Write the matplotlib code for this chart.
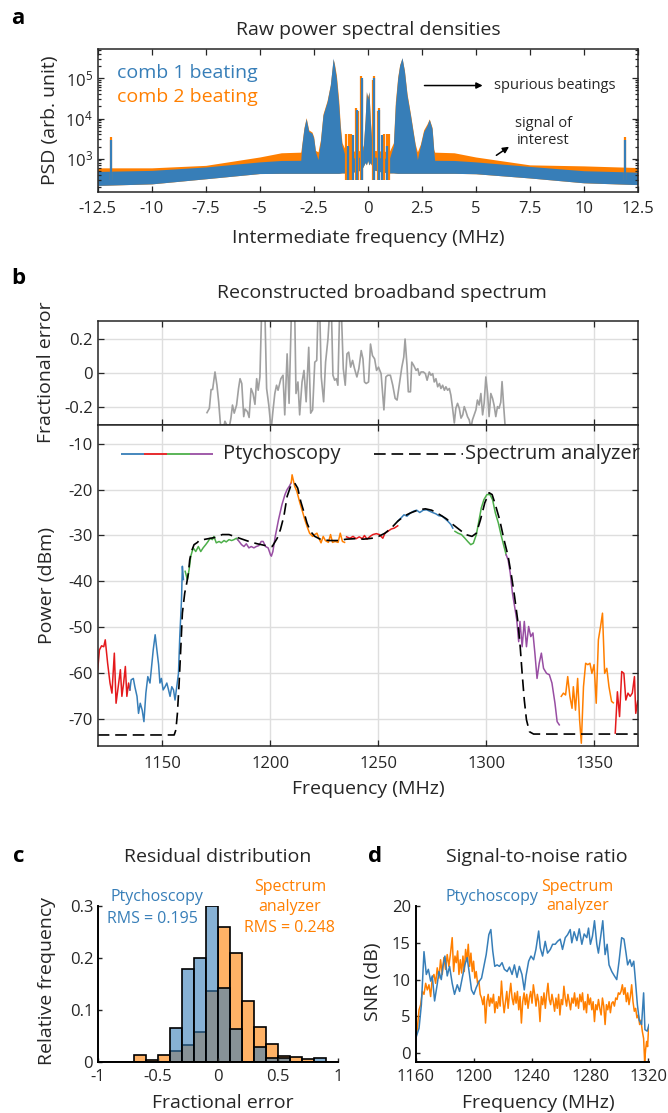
import numpy as np
import matplotlib
matplotlib.use('Agg')
import matplotlib.pyplot as plt
import matplotlib.colors as mcolors
from matplotlib.ticker import FixedLocator, FixedFormatter

plt.rcParams['font.family'] = ['Open Sans', 'DejaVu Sans']
plt.rcParams['mathtext.fontset'] = 'custom'
plt.rcParams['mathtext.rm'] = 'Open Sans'
plt.rcParams['mathtext.default'] = 'regular'
plt.rcParams['axes.unicode_minus'] = False

BLUE = '#377EB8'
RED = '#E41A1C'
GREEN = '#4DAF4A'
PURPLE = '#984EA3'
ORANGE = '#FF7F00'
INK = '#262626'

# ---- panel a: raw PSD envelopes (MHz, arb. unit) ----
psd_freq = [-12.5, -10.0, -7.5, -5.0, -4.0, -3.1,
            -3.05, -2.95, -2.85, -2.73, -2.58, -2.5, -2.42, -2.3,
            -2.19, -2.07, -1.88, -1.73, -1.6, -1.54, -1.45, -1.34, -1.27, -1.19,
            -1.0, -0.6, -0.3, -0.2, -0.12, -0.06, 0.0, 0.06, 0.12, 0.2, 0.3, 0.6, 1.0,
            1.19, 1.28, 1.39, 1.48, 1.59, 1.7, 1.82, 1.98, 2.1, 2.2, 2.3,
            2.44, 2.59, 2.75, 2.85, 2.98, 3.06,
            3.1, 4.0, 5.0, 7.5, 10.0, 12.5]
comb1_top = [480, 510, 620, 830, 900, 910,
             2100, 5600, 10000, 4800, 4300, 3200, 1500, 950,
             2600, 12000, 26000, 68000, 320000, 210000, 100000, 21000, 5600, 2100,
             1000, 1050, 1100, 2000, 9000, 48000, 30000, 48000, 9000, 2000, 1100, 1050, 1000,
             2100, 21000, 100000, 210000, 330000, 150000, 38000, 12000, 4600, 2100, 950,
             2100, 4700, 6800, 9500, 5600, 1500,
             910, 900, 830, 640, 500, 460]
comb2_top = [590, 590, 680, 1100, 1400, 1450,
             2300, 6000, 10500, 5200, 4600, 3500, 1600, 1480,
             2900, 13000, 28000, 70000, 300000, 230000, 120000, 28000, 7000, 2500,
             1500, 1550, 1600, 2200, 9500, 45000, 35000, 45000, 9500, 2200, 1600, 1550, 1500,
             2500, 26000, 110000, 220000, 320000, 160000, 42000, 13000, 5000, 2300, 1480,
             2300, 5200, 7400, 9800, 6000, 1700,
             1450, 1400, 1100, 700, 660, 600]
comb_floor = [215, 235, 315, 425, 430, 430,
              430, 430, 430, 430, 430, 430, 430, 430,
              430, 430, 430, 430, 430, 430, 430, 430, 435, 440,
              440, 470, 520, 650, 800, 700, 900, 700, 800, 650, 520, 470, 440,
              440, 435, 430, 430, 430, 430, 430, 430, 430, 430, 430,
              430, 430, 430, 430, 430, 430,
              430, 430, 420, 330, 250, 225]
spike1_freq = [-11.9, -0.91, -0.68, -0.5, -0.28, 0.28, 0.5, 0.68, 0.91, 11.9]
spike1_top = [2900, 2100, 3800, 16000, 100000, 100000, 16000, 3800, 2100, 2900]
spike2_freq = [-11.9, -0.99, -0.88, -0.77, -0.52, -0.46, -0.3, -0.25,
               0.25, 0.3, 0.46, 0.52, 0.77, 0.88, 0.99, 11.9]
spike2_top = [3500, 4200, 4200, 4200, 18000, 15000, 117000, 90000,
              90000, 117000, 15000, 18000, 4200, 4200, 4200, 3500]
a_ticks = [-12.5, -10, -7.5, -5, -2.5, 0, 2.5, 5, 7.5, 10, 12.5]
a_ticklabels = ['-12.5', '-10', '-7.5', '-5', '-2.5', '0', '2.5', '5', '7.5', '10', '12.5']

# ---- panel b: reconstructed spectrum (MHz, dBm), one list per colour segment ----
red_1 = [(1120.0, -59.2), (1120.8, -54.9), (1121.8, -54.0), (1122.8, -54.2), (1123.5, -52.7),
         (1124.6, -57.8), (1125.7, -62.1), (1126.6, -64.3), (1127.7, -55.6), (1128.5, -66.5),
         (1129.5, -62.9), (1130.5, -59.2), (1131.2, -65.0), (1132.0, -62.1), (1132.8, -58.5),
         (1133.5, -65.0), (1134.3, -62.1), (1134.9, -63.6)]
blue_1 = [(1134.9, -63.6), (1135.5, -61.4), (1136.5, -61.1), (1137.2, -62.9), (1138.2, -65.0),
          (1138.9, -68.7), (1139.7, -66.5), (1140.6, -68.0), (1141.4, -70.5), (1142.3, -64.3),
          (1143.2, -60.7), (1144.2, -62.1), (1145.1, -57.8), (1145.7, -54.9), (1146.6, -51.6),
          (1147.4, -54.9), (1148.2, -58.1), (1148.8, -62.1), (1149.5, -61.1), (1150.3, -63.6),
          (1151.2, -62.9), (1152.0, -62.1), (1152.8, -63.6), (1153.5, -65.0), (1154.3, -62.9),
          (1155.1, -63.6), (1155.8, -65.8), (1156.6, -62.9), (1157.4, -60.0), (1158.0, -52.0),
          (1158.8, -44.0), (1159.2, -36.7), (1159.7, -39.6)]
green_1 = [(1160.5, -37.8), (1161.5, -39.6), (1162.3, -37.5), (1163.1, -34.5), (1164.2, -32.7),
           (1165.4, -33.5), (1166.6, -32.4), (1167.7, -33.5), (1168.8, -32.7), (1170.0, -32.0),
           (1171.1, -31.3), (1172.0, -30.6), (1173.1, -30.9), (1173.8, -30.2), (1174.9, -31.6),
           (1176.2, -31.3), (1177.2, -31.6), (1178.5, -31.1), (1179.5, -31.4), (1180.8, -30.9),
           (1182.0, -31.1), (1183.1, -30.9), (1184.2, -30.6), (1184.8, -30.9)]
purple_1 = [(1184.8, -30.9), (1186.6, -32.0), (1187.7, -32.4), (1188.8, -31.8), (1190.0, -32.7),
            (1191.1, -32.4), (1192.3, -32.7), (1193.4, -32.4), (1194.6, -32.2), (1195.7, -31.3),
            (1196.6, -31.3), (1197.7, -32.4), (1198.9, -32.7), (1200.0, -34.2), (1200.4, -34.5),
            (1201.1, -33.5), (1202.2, -30.2), (1203.7, -26.6), (1205.3, -23.3), (1206.7, -21.1),
            (1207.7, -20.0), (1208.7, -19.3), (1209.6, -18.5)]
orange_1 = [(1209.6, -18.5), (1210.0, -16.8), (1211.2, -19.3), (1212.2, -20.4), (1213.6, -22.9),
            (1215.0, -25.1), (1215.9, -26.6), (1216.9, -28.0), (1218.1, -29.5), (1219.5, -30.2),
            (1220.5, -29.8), (1221.5, -29.5), (1222.4, -30.6), (1223.4, -31.6), (1224.4, -30.2),
            (1225.4, -31.1), (1226.8, -31.5), (1227.8, -29.8), (1228.7, -31.5), (1229.9, -31.3),
            (1231.3, -31.5), (1232.3, -29.5), (1233.3, -31.3), (1234.3, -31.5)]
red_2 = [(1235.2, -30.3), (1236.8, -30.6), (1238.2, -30.2), (1239.6, -30.7), (1241.1, -30.3),
         (1242.5, -30.7), (1243.5, -30.0), (1244.7, -30.8), (1246.1, -30.2), (1247.4, -29.8),
         (1249.0, -29.6), (1250.4, -29.8), (1252.0, -30.6), (1253.0, -29.5), (1254.3, -29.1),
         (1255.9, -28.6), (1257.3, -28.4), (1258.9, -27.9)]
blue_2 = [(1258.9, -26.9), (1260.4, -26.2), (1261.8, -25.5), (1263.2, -25.8), (1264.8, -25.1),
          (1266.3, -24.7), (1267.7, -24.5), (1269.1, -25.0), (1270.7, -24.5), (1272.2, -24.4),
          (1273.6, -24.7), (1275.0, -25.0), (1276.6, -25.3), (1277.9, -25.7), (1279.5, -25.8),
          (1280.9, -26.4), (1282.1, -26.9), (1283.5, -27.6), (1284.4, -28.4)]
green_2 = [(1285.4, -29.1), (1286.8, -29.5), (1288.4, -29.8), (1290.0, -30.6), (1291.3, -31.3),
           (1292.7, -32.0), (1293.9, -31.7), (1295.3, -29.8), (1296.3, -27.3), (1297.6, -24.0),
           (1298.8, -22.2), (1300.2, -21.1), (1301.6, -21.1), (1302.8, -22.2), (1304.1, -25.1),
           (1305.5, -27.3), (1306.7, -29.8), (1308.1, -32.4), (1309.1, -34.2)]
purple_2 = [(1309.1, -34.2), (1310.0, -35.3), (1311.0, -38.2), (1312.0, -42.5), (1313.0, -45.4),
            (1314.0, -48.3), (1314.9, -53.1), (1315.5, -48.7), (1316.5, -54.2), (1317.5, -48.7),
            (1318.5, -54.2), (1319.5, -49.8), (1320.5, -52.0), (1321.5, -51.2), (1322.4, -55.6),
            (1323.4, -61.1), (1324.4, -57.8), (1325.4, -55.6), (1326.4, -58.9), (1327.8, -60.0),
            (1329.1, -60.3), (1330.3, -62.1), (1331.7, -66.5), (1332.7, -70.5), (1333.7, -71.2)]
orange_2 = [(1334.6, -65.0), (1335.6, -64.3), (1336.6, -64.7), (1337.6, -60.7), (1338.6, -65.0),
            (1339.6, -67.6), (1340.2, -62.9), (1341.2, -68.0), (1342.2, -61.1), (1343.1, -70.1),
            (1343.9, -75.2), (1344.9, -62.9), (1345.9, -57.8), (1346.9, -58.1), (1347.9, -57.8),
            (1348.8, -60.0), (1349.8, -58.1), (1350.8, -66.5), (1351.8, -52.7), (1352.8, -49.8),
            (1353.7, -46.9), (1354.7, -60.0), (1355.7, -58.9), (1356.7, -62.9), (1357.9, -66.1),
            (1358.7, -66.4)]
red_3 = [(1359.6, -73.0), (1360.6, -64.0), (1361.6, -69.4), (1362.6, -59.6), (1363.6, -60.0),
         (1364.5, -65.8), (1365.5, -64.3), (1366.5, -65.0), (1367.5, -64.3), (1368.5, -60.7),
         (1369.1, -68.7), (1370.0, -66.0)]
ptycho_segments = [(red_1, RED), (blue_1, BLUE), (green_1, GREEN), (purple_1, PURPLE),
                   (orange_1, ORANGE), (red_2, RED), (blue_2, BLUE), (green_2, GREEN),
                   (purple_2, PURPLE), (orange_2, ORANGE), (red_3, RED)]

analyzer = [(1120.0, -73.4), (1155.4, -73.4), (1156.2, -72.3), (1156.9, -68.7), (1157.7, -62.1),
            (1158.5, -54.2), (1159.2, -46.9), (1160.3, -42.5), (1161.2, -40.4), (1162.0, -38.2),
            (1162.6, -35.3), (1163.4, -33.5), (1164.6, -32.0), (1166.2, -31.5), (1166.9, -31.1),
            (1170.0, -30.8), (1174.6, -30.4), (1177.7, -29.8), (1180.8, -29.8), (1183.8, -30.3),
            (1186.9, -30.8), (1190.0, -31.3), (1193.8, -31.8), (1197.7, -32.2), (1200.8, -32.4),
            (1203.1, -30.6), (1204.6, -28.7), (1206.2, -25.8), (1207.7, -21.5), (1209.6, -18.9),
            (1211.2, -18.6), (1212.6, -19.7), (1214.0, -22.6), (1215.6, -25.1), (1216.9, -27.3),
            (1218.5, -29.1), (1220.5, -30.2), (1223.4, -30.9), (1227.4, -31.1), (1231.3, -31.1),
            (1235.2, -30.8), (1239.2, -30.7), (1243.1, -30.8), (1247.0, -30.6), (1250.0, -30.2),
            (1253.0, -29.5), (1255.9, -28.4), (1258.9, -26.9), (1261.8, -25.8), (1264.8, -25.1),
            (1268.7, -24.4), (1271.7, -24.2), (1274.6, -24.5), (1278.5, -25.5), (1281.5, -26.4),
            (1284.4, -27.6), (1287.4, -28.7), (1290.4, -29.8), (1293.3, -30.2), (1295.3, -29.5),
            (1297.2, -26.6), (1299.2, -22.9), (1301.2, -20.7), (1302.6, -21.1), (1304.1, -23.3),
            (1306.1, -26.6), (1308.1, -30.9), (1310.0, -34.5), (1311.6, -38.9), (1313.0, -43.3),
            (1314.4, -48.3), (1315.6, -54.2), (1316.5, -60.0), (1317.5, -65.8), (1318.5, -70.1),
            (1319.9, -72.7), (1321.8, -73.2), (1370.0, -73.2)]

frac_err = [(1170.6, -0.23), (1171.7, -0.205), (1172.5, -0.096), (1173.2, -0.096), (1174.3, 0.006),
            (1175.2, -0.071), (1176.0, -0.167), (1176.9, -0.31), (1177.9, -0.34), (1178.9, -0.28),
            (1179.7, -0.30), (1180.7, -0.33), (1181.7, -0.26), (1182.4, -0.186), (1183.2, -0.233),
            (1184.3, -0.186), (1185.2, -0.09), (1185.9, -0.033), (1186.7, -0.061), (1187.6, -0.253),
            (1188.2, -0.209), (1189.3, -0.224), (1190.1, -0.258), (1191.0, -0.09), (1191.9, -0.119),
            (1192.8, -0.182), (1193.6, -0.033), (1194.3, -0.1), (1195.1, -0.023), (1195.9, 0.36),
            (1196.6, 0.36), (1197.4, 0.36), (1198.2, -0.09), (1199.2, -0.186), (1200.3, -0.33),
            (1201.1, -0.224), (1202.0, -0.119), (1202.8, -0.071), (1203.5, -0.1), (1204.8, -0.033),
            (1205.8, -0.013), (1206.6, -0.243), (1207.7, 0.111), (1208.6, -0.176), (1209.7, 0.36),
            (1210.5, 0.36), (1211.2, 0.36), (1211.8, -0.119), (1212.7, -0.052), (1213.5, -0.243),
            (1214.6, -0.052), (1215.5, 0.015), (1216.5, -0.167), (1217.7, 0.149), (1218.6, -0.233),
            (1219.5, -0.214), (1220.5, 0.063), (1221.4, 0.073), (1222.0, 0.36), (1222.8, 0.36),
            (1223.5, -0.023), (1224.6, -0.167), (1225.5, 0.063), (1226.6, 0.197), (1227.4, 0.36),
            (1228.2, 0.36), (1228.9, -0.013), (1229.7, -0.042), (1230.5, -0.033), (1231.2, -0.071),
            (1232.0, 0.36), (1232.8, 0.36), (1233.7, 0.025), (1234.6, -0.071), (1235.4, 0.111),
            (1236.2, 0.121), (1237.1, 0.034), (1238.0, 0.073), (1238.9, 0.025), (1240.0, -0.023),
            (1240.9, 0.025), (1242.0, 0.13), (1242.8, 0.082), (1243.5, -0.052), (1244.3, -0.061),
            (1245.4, -0.052), (1246.3, 0.168), (1247.2, 0.101), (1248.2, 0.082), (1249.1, 0.015),
            (1250.0, 0.034), (1251.2, -0.004), (1252.5, -0.214), (1253.4, -0.023), (1254.3, -0.013),
            (1255.5, -0.013), (1256.6, -0.071), (1257.7, -0.147), (1258.6, -0.157), (1259.7, -0.061),
            (1260.8, 0.034), (1261.7, 0.092), (1262.3, 0.197), (1263.2, 0.044), (1263.8, -0.109),
            (1264.8, -0.109), (1265.4, 0.063), (1266.3, 0.044), (1267.4, 0.015), (1268.2, 0.025),
            (1268.9, -0.013), (1269.7, 0.006), (1270.8, 0.006), (1271.7, -0.004), (1272.5, -0.042),
            (1273.5, 0.006), (1274.3, -0.013), (1275.1, -0.004), (1275.8, -0.052), (1276.6, -0.033),
            (1277.4, -0.08), (1278.2, -0.061), (1278.9, -0.09), (1279.7, -0.071), (1280.5, -0.1),
            (1281.2, -0.08), (1282.0, -0.1), (1282.8, -0.09), (1283.5, -0.128), (1284.3, -0.205),
            (1285.1, -0.29), (1285.8, -0.205), (1286.6, -0.176), (1287.4, -0.205), (1288.2, -0.262),
            (1289.0, -0.243), (1289.7, -0.195), (1290.5, -0.224), (1291.2, -0.253), (1292.0, -0.272),
            (1292.8, -0.32), (1293.5, -0.272), (1294.3, -0.243), (1295.1, -0.214), (1295.8, -0.157),
            (1296.6, -0.186), (1297.4, -0.119), (1298.2, -0.243), (1298.9, -0.176), (1299.7, -0.023),
            (1300.5, -0.119), (1301.2, -0.253), (1302.0, -0.119), (1302.8, -0.147), (1303.5, -0.186),
            (1304.3, -0.253), (1305.1, -0.195), (1305.8, -0.205), (1306.6, -0.17), (1307.2, -0.05),
            (1308.0, -0.2), (1308.8, -0.34)]

# ---- panel c: residual histograms (bin edges, relative frequency) ----
bin_edges = [-1.0, -0.9, -0.8, -0.7, -0.6, -0.5, -0.4, -0.3, -0.2, -0.1, 0.0,
             0.1, 0.2, 0.3, 0.4, 0.5, 0.6, 0.7, 0.8, 0.9, 1.0]
hist_ptycho = [0, 0, 0, 0, 0, 0, 0.065, 0.179, 0.2, 0.3,
               0.142, 0.063, 0, 0.028, 0.0065, 0.0065, 0, 0, 0.0065, 0]
hist_analyzer = [0, 0, 0, 0.013, 0.003, 0.013, 0.02, 0.032, 0.057, 0.137,
                 0.26, 0.21, 0.116, 0.066, 0.034, 0.011, 0.009, 0.005, 0, 0]

# ---- panel d: SNR (dB) ----
snr_ptycho = [(1160.0, 2.0), (1162.3, 3.4), (1163.9, 6.6), (1165.7, 13.8), (1167.3, 10.7),
              (1168.7, 11.4), (1170.3, 9.8), (1171.4, 10.5), (1173.0, 7.1), (1174.9, 9.5),
              (1176.0, 11.1), (1177.6, 10.0), (1178.7, 11.8), (1180.1, 13.2), (1181.7, 10.5),
              (1183.3, 11.8), (1185.1, 9.5), (1186.7, 8.0), (1188.6, 9.3), (1190.2, 8.4),
              (1192.0, 10.2), (1193.8, 12.0), (1195.4, 13.0), (1197.0, 10.7), (1198.4, 8.6),
              (1200.0, 8.0), (1201.6, 8.9), (1203.4, 9.7), (1205.3, 10.2), (1206.9, 11.8),
              (1208.5, 13.4), (1210.3, 16.1), (1211.7, 16.8), (1213.0, 13.9), (1214.4, 11.8),
              (1216.0, 12.0), (1217.6, 11.8), (1219.4, 12.3), (1221.0, 11.4), (1222.9, 11.1),
              (1224.5, 11.7), (1226.3, 10.7), (1227.9, 12.0), (1229.7, 10.3), (1231.3, 11.8),
              (1233.1, 10.7), (1234.7, 8.6), (1235.9, 10.5), (1237.7, 12.5), (1239.3, 13.2),
              (1241.1, 12.7), (1242.7, 14.1), (1244.6, 16.6), (1245.7, 14.3), (1247.3, 13.2),
              (1249.1, 15.2), (1250.7, 13.6), (1252.6, 14.1), (1254.2, 14.8), (1256.0, 14.8),
              (1257.6, 15.2), (1259.4, 15.5), (1261.0, 14.1), (1262.9, 15.7), (1264.5, 16.1),
              (1266.3, 16.8), (1267.4, 15.0), (1269.0, 16.5), (1270.9, 15.3), (1272.5, 16.9),
              (1274.3, 14.8), (1275.9, 16.2), (1277.7, 15.7), (1278.9, 17.0), (1280.2, 14.8),
              (1281.6, 15.9), (1283.0, 18.0), (1284.6, 14.8), (1285.7, 13.6), (1287.3, 15.9),
              (1288.7, 18.0), (1290.3, 13.4), (1291.7, 14.8), (1293.0, 12.0), (1294.9, 11.1),
              (1296.7, 10.5), (1298.3, 10.0), (1299.9, 12.5), (1301.7, 15.7), (1303.3, 15.5),
              (1304.7, 13.6), (1305.8, 12.0), (1307.4, 12.7), (1308.6, 11.8), (1310.0, 12.5),
              (1310.9, 10.5), (1312.5, 6.6), (1313.8, 4.5), (1315.4, 3.9), (1316.8, 8.2),
              (1317.7, 3.2), (1319.3, 3.0), (1320.5, 3.9)]
snr_analyzer = [2.0, 3.4, 5.9, 6.6, 8.4, 8.0, 9.5, 8.6, 9.3, 7.7, 10.2, 10.7, 9.5, 11.6, 10.2,
                12.7, 10.7, 13.0, 11.4, 13.4, 11.8, 13.6, 15.7,
                11.1, 13.2, 12.3, 13.9, 10.7, 12.7, 10.9, 13.2, 11.1, 14.1, 12.5, 14.8, 11.8, 13.6,
                11.1, 12.5, 10.2, 11.1, 9.5, 9.8, 8.0, 7.5, 6.6, 7.7, 4.1, 7.0, 8.0, 6.4, 7.5, 6.8,
                8.0, 5.5, 7.0, 6.1, 7.7, 6.4, 9.8, 7.3, 5.5, 7.0, 8.4, 6.1, 8.0, 9.5, 7.5, 6.6, 8.2,
                6.8, 8.4, 5.9, 7.7, 4.1, 7.0, 8.2, 6.6, 8.0, 6.1, 7.5, 8.4, 6.8, 9.3, 8.0, 6.4, 8.0,
                7.0, 4.3, 7.7, 6.6, 8.2, 6.1, 8.0, 9.5, 7.3, 6.6, 8.0, 7.0, 5.7, 7.5, 6.1, 8.0, 5.2,
                7.3, 6.6, 9.1, 7.5, 6.4, 8.0, 7.0, 5.9, 7.5, 6.8, 8.2, 6.4, 7.5, 6.1, 8.0, 7.0, 8.2,
                5.9, 7.0, 5.5, 8.0, 6.6, 7.5, 5.9, 7.0, 4.3, 6.6, 5.9, 7.3, 6.1, 5.2, 7.5, 6.4, 3.9,
                6.6, 5.9, 7.0, 5.5, 6.8, 7.0, 6.4, 7.5, 7.3, 8.2, 8.0, 8.4, 9.3, 8.0, 8.9, 7.0, 8.2,
                6.6, 7.7, 9.3, 7.0, 5.7, 6.1, 4.8, 5.2, 3.9, 4.5, 3.0, 2.0,
                -1.1, 0.5, 1.6, 0.9, 3.4]

W, H = 668.0, 1113.0
fig = plt.figure(figsize=(W / 100, H / 100), dpi=100)


def rect(l, t, r, b):
    return [l / W, 1 - b / H, (r - l) / W, (b - t) / H]


def label(x, y, s, **kw):
    kw.setdefault('color', INK)
    kw.setdefault('fontsize', 14)
    fig.text(x / W, 1 - y / H, s, ha='center', va='center', **kw)


def box_style(ax):
    for sp in ax.spines.values():
        sp.set_color(INK)
        sp.set_linewidth(1.1)
    ax.tick_params(which='both', direction='in', top=True, right=True, colors=INK,
                   labelsize=12, width=0.9)
    ax.tick_params(which='major', length=4)
    ax.tick_params(which='minor', length=2)
    ax.tick_params(axis='x', pad=7)


def open_style(ax):
    ax.spines['top'].set_visible(False)
    ax.spines['right'].set_visible(False)
    for sp in ('left', 'bottom'):
        ax.spines[sp].set_color('black')
        ax.spines[sp].set_linewidth(1.4)
    ax.tick_params(direction='in', length=3, width=1, colors=INK, labelsize=12)
    ax.tick_params(axis='x', pad=5)


# ---------------- panel a ----------------
ax_a = fig.add_axes(rect(97.7, 49, 637.7, 191.7))
ax_a.fill_between(psd_freq, comb_floor, comb2_top, color=ORANGE, lw=0)
ax_a.vlines(spike2_freq, 300, spike2_top, color=ORANGE, lw=1.6)
ax_a.fill_between(psd_freq, comb_floor, comb1_top, color=BLUE, lw=0)
ax_a.vlines(spike1_freq, 300, spike1_top, color=BLUE, lw=1.6)
ax_a.set_yscale('log')
ax_a.set_xlim(-12.5, 12.5)
ax_a.set_ylim(150, 5.4e5)
ax_a.xaxis.set_major_locator(FixedLocator(a_ticks))
ax_a.xaxis.set_major_formatter(FixedFormatter(a_ticklabels))
box_style(ax_a)
ax_a.text(0.035, 0.83, 'comb 1 beating', color=BLUE, fontsize=14, transform=ax_a.transAxes,
          va='center')
ax_a.text(0.035, 0.665, 'comb 2 beating', color=ORANGE, fontsize=14, transform=ax_a.transAxes,
          va='center')
ax_a.annotate('', xy=(0.718, 0.744), xytext=(0.60, 0.744), xycoords='axes fraction',
              arrowprops=dict(arrowstyle='-|>', color='black', lw=1.1, mutation_scale=9))
ax_a.text(0.734, 0.744, 'spurious beatings', fontsize=10.5, color=INK,
          transform=ax_a.transAxes, va='center')
ax_a.annotate('', xy=(0.766, 0.326), xytext=(0.734, 0.244), xycoords='axes fraction',
              arrowprops=dict(arrowstyle='-|>', color='black', lw=1.1, mutation_scale=9))
ax_a.text(0.825, 0.42, 'signal of\ninterest', fontsize=10.5, color=INK, ha='center',
          va='center', linespacing=1.2, transform=ax_a.transAxes)
label(18, 18, 'a', fontsize=16, fontweight='bold', color='black')
label(368, 30, 'Raw power spectral densities')
label(50, 120, 'PSD (arb. unit)', rotation=90)
label(368, 238, 'Intermediate frequency (MHz)')

# ---------------- panel b ----------------
b_ticks = [1150, 1200, 1250, 1300, 1350]
ax_e = fig.add_axes(rect(97.7, 321.3, 637.7, 424.7))
fe = np.array(frac_err)
ax_e.plot(fe[:, 0], fe[:, 1], color='#a0a0a0', lw=1.2)
ax_e.set_xlim(1120, 1370)
ax_e.set_ylim(-0.3, 0.3)
ax_e.set_xticks(b_ticks)
ax_e.set_xticklabels([])
ax_e.set_yticks([-0.2, 0, 0.2])
ax_e.set_yticklabels(['-0.2', '0', '0.2'])
ax_e.grid(True, color='#dedede', lw=1.0)
ax_e.set_axisbelow(True)
box_style(ax_e)

ax_b = fig.add_axes(rect(97.7, 424.7, 637.7, 746))
for seg, col in ptycho_segments:
    arr = np.array(seg)
    ax_b.plot(arr[:, 0], arr[:, 1], color=col, lw=1.1)
sa = np.array(analyzer)
ax_b.plot(sa[:, 0], sa[:, 1], color='black', lw=1.2, dashes=(7, 3.5))
ax_b.set_xlim(1120, 1370)
ax_b.set_ylim(-75.8, -5.9)
ax_b.set_xticks(b_ticks)
ax_b.set_xticklabels([str(t) for t in b_ticks])
ax_b.set_yticks([-70, -60, -50, -40, -30, -20, -10])
ax_b.grid(True, color='#dedede', lw=1.0)
ax_b.set_axisbelow(True)
box_style(ax_b)
# legend drawn by hand: multicoloured sample line
leg_y = 0.91
for i, col in enumerate([BLUE, RED, GREEN, PURPLE]):
    ax_b.plot([0.044 + i * 0.0425, 0.044 + (i + 1) * 0.0425], [leg_y, leg_y], color=col,
              lw=1.3, transform=ax_b.transAxes, solid_capstyle='butt')
ax_b.text(0.232, leg_y, 'Ptychoscopy', fontsize=14.5, color=INK, va='center',
          transform=ax_b.transAxes)
ax_b.plot([0.511, 0.677], [leg_y, leg_y], color='black', lw=1.2, dashes=(7, 3.5),
          transform=ax_b.transAxes)
ax_b.text(0.681, leg_y, 'Spectrum analyzer', fontsize=14.5, color=INK, va='center',
          transform=ax_b.transAxes, clip_on=False)
label(18, 279, 'b', fontsize=16, fontweight='bold', color='black')
label(382, 293, 'Reconstructed broadband spectrum')
label(46, 372, 'Fractional error', rotation=90)
label(47, 586, 'Power (dBm)', rotation=90)
label(368, 789, 'Frequency (MHz)')

# ---------------- panel c ----------------
ax_c = fig.add_axes(rect(98, 906, 338.3, 1061.7))
edges = np.array(bin_edges)
centers = (edges[:-1] + edges[1:]) / 2
ax_c.bar(centers, hist_analyzer, width=0.1, facecolor=mcolors.to_rgba(ORANGE, 0.6),
         edgecolor='black', lw=1.2)
ax_c.bar(centers, hist_ptycho, width=0.1, facecolor=mcolors.to_rgba(BLUE, 0.6),
         edgecolor='black', lw=1.2)
ax_c.set_xlim(-1, 1)
ax_c.set_ylim(0, 0.3)
ax_c.set_xticks([-1, -0.5, 0, 0.5, 1])
ax_c.set_xticklabels(['-1', '-0.5', '0', '0.5', '1'])
ax_c.set_yticks([0, 0.1, 0.2, 0.3])
ax_c.set_yticklabels(['0', '0.1', '0.2', '0.3'])
open_style(ax_c)
label(157, 897, 'Ptychoscopy', color=BLUE, fontsize=11.5)
label(152, 919, 'RMS = 0.195', color=BLUE, fontsize=11.5)
label(290, 887, 'Spectrum', color=ORANGE, fontsize=11.5)
label(290, 907, 'analyzer', color=ORANGE, fontsize=11.5)
label(289, 928, 'RMS = 0.248', color=ORANGE, fontsize=11.5)
label(19, 857, 'c', fontsize=16, fontweight='bold', color='black')
label(218, 857, 'Residual distribution')
label(47, 981, 'Relative frequency', rotation=90)
label(223, 1103, 'Fractional error')

# ---------------- panel d ----------------
ax_d = fig.add_axes(rect(415.7, 906, 649, 1061.7))
sp_ = np.array(snr_ptycho)
n_sa = len(snr_analyzer)
sa_freq = np.concatenate([np.linspace(1160, 1185.1, 23),
                          np.linspace(1186.1, 1316.8, n_sa - 28),
                          np.linspace(1317.5, 1320.2, 5)])
ax_d.plot(sa_freq, snr_analyzer, color=ORANGE, lw=1.1)
ax_d.plot(sp_[:, 0], sp_[:, 1], color=BLUE, lw=1.1)
ax_d.set_xlim(1160, 1320.5)
ax_d.set_ylim(-1.15, 20)
ax_d.set_xticks([1160, 1200, 1240, 1280, 1320])
ax_d.set_yticks([0, 5, 10, 15, 20])
open_style(ax_d)
label(492, 897, 'Ptychoscopy', color=BLUE, fontsize=11.5)
label(577, 887, 'Spectrum', color=ORANGE, fontsize=11.5)
label(578, 906, 'analyzer', color=ORANGE, fontsize=11.5)
label(375, 857, 'd', fontsize=16, fontweight='bold', color='black')
label(537, 857, 'Signal-to-noise ratio')
label(373, 982, 'SNR (dB)', rotation=90)
label(538, 1103, 'Frequency (MHz)')

fig.savefig('out.png', dpi=100)
